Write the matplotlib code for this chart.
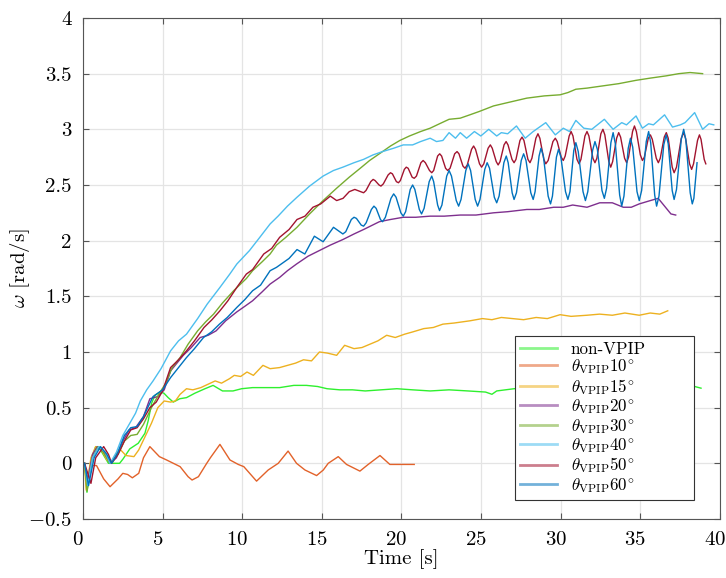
import numpy as np
import matplotlib
matplotlib.use('Agg')
import matplotlib.pyplot as plt
import matplotlib.transforms as mtransforms

plt.rcParams['font.family'] = 'serif'
plt.rcParams['font.serif'] = ['cmr10']
plt.rcParams['mathtext.fontset'] = 'cm'
plt.rcParams['axes.formatter.use_mathtext'] = True

# (time [s], omega [rad/s])
non_vpip = np.array([
    (0.1, 0), (0.25, -0.26), (0.55, 0.05), (0.8, 0.15), (1.1, 0.12), (1.6, 0.0), (2.3, 0.0),
    (2.52, 0.04), (2.94, 0.13), (3.47, 0.18), (3.89, 0.27), (4.1, 0.385), (4.31, 0.54),
    (4.52, 0.61), (4.83, 0.64), (5.08, 0.63), (5.35, 0.59), (5.67, 0.55), (6.08, 0.58),
    (6.5, 0.59), (7.03, 0.63), (7.66, 0.67), (8.17, 0.70), (8.76, 0.65), (9.42, 0.65),
    (9.96, 0.67), (10.65, 0.68), (11.35, 0.68), (12.35, 0.68), (13.24, 0.70), (14.03, 0.70),
    (14.73, 0.69), (15.33, 0.67), (16.13, 0.66), (16.92, 0.66), (17.72, 0.65), (18.71, 0.66),
    (19.71, 0.67), (20.7, 0.66), (21.8, 0.65), (22.99, 0.66), (24.18, 0.65), (25.28, 0.64),
    (25.68, 0.62), (25.98, 0.65), (27.07, 0.67), (28.17, 0.68), (29.66, 0.68), (31.15, 0.69),
    (32.64, 0.68), (34.13, 0.69), (35.62, 0.68), (37.12, 0.69), (38.41, 0.69), (38.81, 0.675),
])

vpip10 = np.array([
    (0.1, 0), (0.25, -0.2), (0.45, -0.02), (0.85, -0.02), (1.3, -0.14), (1.7, -0.21),
    (2.2, -0.14), (2.5, -0.09), (2.8, -0.1), (3.1, -0.13), (3.5, -0.09), (3.8, 0.05),
    (4.2, 0.15), (4.8, 0.06), (5.25, 0.03), (6.1, -0.03), (6.6, -0.12), (6.85, -0.15),
    (7.25, -0.12), (7.77, 0.0), (8.0, 0.05), (8.6, 0.17), (9.23, 0.03), (9.75, -0.01),
    (10.1, -0.03), (10.9, -0.16), (11.63, -0.06), (12.26, 0.0), (12.88, 0.11), (13.41, 0.0),
    (13.94, -0.06), (14.67, -0.11), (15.09, -0.06), (15.4, 0.0), (16.03, 0.06), (16.55, -0.01),
    (17.39, -0.07), (17.91, -0.01), (18.65, 0.07), (19.27, -0.01), (20.8, -0.01),
])

vpip15 = np.array([
    (0.1, 0), (0.2, -0.24), (0.5, 0.05), (0.8, 0.15), (1.1, 0.14), (1.5, 0.03), (1.8, 0.0),
    (2.1, 0.08), (2.3, 0.13), (2.7, 0.07), (3.2, 0.06), (3.5, 0.12), (3.8, 0.21), (4.3, 0.36),
    (4.7, 0.50), (5.1, 0.56), (5.5, 0.55), (5.8, 0.56), (6.1, 0.62), (6.5, 0.67), (6.9, 0.66),
    (7.4, 0.68), (7.7, 0.70), (8.3, 0.74), (8.7, 0.72), (9.2, 0.76), (9.5, 0.79), (9.9, 0.78),
    (10.3, 0.82), (10.7, 0.79), (11.3, 0.88), (11.75, 0.85), (12.35, 0.86), (12.85, 0.88),
    (13.35, 0.90), (13.85, 0.93), (14.35, 0.92), (14.85, 1.0), (15.35, 0.99), (15.93, 0.97),
    (16.43, 1.06), (17.02, 1.03), (17.52, 1.04), (18.02, 1.07), (18.52, 1.10), (19.07, 1.15),
    (19.61, 1.13), (20.2, 1.16), (20.7, 1.18), (21.4, 1.21), (22.0, 1.22), (22.6, 1.25),
    (23.3, 1.26), (24.3, 1.28), (25.08, 1.30), (25.68, 1.29), (26.27, 1.31), (26.97, 1.30),
    (27.67, 1.29), (28.46, 1.31), (29.16, 1.30), (29.96, 1.335), (30.65, 1.32), (31.65, 1.33),
    (32.44, 1.34), (33.24, 1.33), (34.03, 1.35), (34.93, 1.33), (35.62, 1.35), (36.22, 1.34),
    (36.72, 1.37),
])

vpip20 = np.array([
    (0.1, 0), (0.3, -0.15), (0.6, 0.08), (0.9, 0.15), (1.3, 0.1), (1.7, 0.0), (2.1, 0.05),
    (2.5, 0.2), (2.9, 0.3), (3.3, 0.32), (3.8, 0.42), (4.2, 0.58), (4.7, 0.6), (5.1, 0.66),
    (5.5, 0.83), (5.9, 0.9), (6.3, 0.97), (6.8, 1.04), (7.36, 1.13), (7.86, 1.15), (8.36, 1.19),
    (8.96, 1.28), (9.66, 1.36), (10.16, 1.41), (10.65, 1.46), (11.25, 1.54), (11.75, 1.61),
    (12.35, 1.67), (12.84, 1.73), (13.41, 1.79), (14.13, 1.86), (14.83, 1.91), (15.53, 1.96),
    (16.32, 2.01), (17.02, 2.06), (17.62, 2.10), (18.61, 2.17), (19.31, 2.19), (20.11, 2.21),
    (20.9, 2.21), (21.8, 2.22), (22.69, 2.22), (23.69, 2.23), (24.68, 2.23), (25.78, 2.25),
    (26.67, 2.26), (27.87, 2.28), (28.66, 2.28), (29.56, 2.30), (30.16, 2.30), (30.75, 2.32),
    (31.65, 2.30), (32.45, 2.34), (33.24, 2.34), (33.93, 2.30), (34.43, 2.30), (34.93, 2.33),
    (35.63, 2.36), (36.12, 2.38), (36.52, 2.31), (36.92, 2.24), (37.22, 2.23),
])

vpip30 = np.array([
    (0.1, 0), (0.25, -0.25), (0.6, 0.05), (0.95, 0.15), (1.3, 0.1), (1.7, 0.0), (2.2, 0.08),
    (2.6, 0.2), (3.0, 0.25), (3.4, 0.26), (3.8, 0.35), (4.3, 0.5), (4.8, 0.63), (5.2, 0.72),
    (5.6, 0.86), (6.1, 0.95), (6.6, 1.07), (7.2, 1.19), (7.7, 1.27), (8.2, 1.34), (8.76, 1.44),
    (9.46, 1.55), (10.26, 1.66), (10.65, 1.73), (11.25, 1.81), (11.75, 1.88), (12.15, 1.96),
    (12.74, 2.03), (13.44, 2.12), (14.23, 2.24), (15.08, 2.36), (15.92, 2.47), (16.72, 2.57),
    (17.41, 2.65), (18.0, 2.72), (18.71, 2.79), (19.31, 2.85), (19.9, 2.90), (20.5, 2.94),
    (21.2, 2.98), (21.8, 3.01), (22.39, 3.05), (22.99, 3.09), (23.69, 3.10), (24.29, 3.13),
    (24.88, 3.16), (25.78, 3.21), (26.67, 3.24), (27.87, 3.28), (28.96, 3.30), (29.96, 3.31),
    (30.45, 3.33), (30.95, 3.36), (31.65, 3.37), (32.64, 3.39), (33.64, 3.41), (34.73, 3.44),
    (35.63, 3.46), (36.62, 3.48), (37.42, 3.50), (38.12, 3.51), (38.91, 3.50),
])

vpip40 = np.array([
    (0.1, 0), (0.3, -0.2), (0.6, 0.05), (1.0, 0.15), (1.4, 0.1), (1.7, 0.0), (2.1, 0.1),
    (2.5, 0.25), (2.9, 0.35), (3.3, 0.45), (3.6, 0.56), (4.0, 0.66), (4.4, 0.74), (4.9, 0.85),
    (5.5, 1.01), (6.0, 1.1), (6.5, 1.16), (7.2, 1.3), (7.8, 1.43), (8.6, 1.58), (9.22, 1.70),
    (9.66, 1.79), (10.45, 1.91), (11.05, 2.02), (11.75, 2.15), (12.25, 2.22), (12.84, 2.31),
    (13.44, 2.39), (14.23, 2.49), (15.08, 2.58), (15.73, 2.63), (16.32, 2.66), (17.02, 2.70),
    (17.62, 2.73), (18.21, 2.77), (18.81, 2.80), (19.51, 2.83), (20.11, 2.86), (20.7, 2.86),
    (21.2, 2.89), (21.8, 2.92), (22.2, 2.89), (22.6, 2.90), (22.99, 2.97), (23.39, 2.92),
    (23.69, 2.97), (24.09, 2.92), (24.58, 2.98), (24.98, 2.94), (25.48, 3.00), (25.98, 2.94),
    (26.27, 2.97), (26.67, 2.96), (27.22, 3.03), (27.77, 2.92), (28.27, 2.98), (29.06, 3.06),
    (29.66, 2.95), (30.16, 3.01), (30.55, 2.98), (30.95, 3.08), (31.45, 3.01), (31.95, 3.00),
    (32.74, 3.09), (33.29, 3.00), (33.83, 3.06), (34.13, 3.04), (34.73, 3.12), (35.13, 3.01),
    (35.52, 3.05), (35.82, 3.04), (36.52, 3.13), (37.02, 3.02), (37.51, 3.04), (37.81, 3.06),
    (38.41, 3.15), (38.91, 3.00), (39.31, 3.05), (39.61, 3.04),
])

vpip50 = np.array([
    (0.1, 0), (0.5, -0.18), (0.8, 0.05), (1.3, 0.15), (1.6, 0.08), (1.8, 0.0), (2.2, 0.08),
    (2.6, 0.2), (3.0, 0.3), (3.4, 0.32), (3.8, 0.4), (4.2, 0.5), (4.6, 0.55), (5.0, 0.65),
    (5.5, 0.86), (6.0, 0.93), (6.5, 1.01), (7.0, 1.1), (7.6, 1.22), (8.1, 1.29), (8.6, 1.37),
    (9.1, 1.46), (9.66, 1.58), (10.26, 1.70), (10.65, 1.74), (11.35, 1.88), (11.85, 1.93),
    (12.35, 2.03), (12.94, 2.10), (13.44, 2.19), (13.94, 2.22), (14.44, 2.30), (14.93, 2.33),
    (15.53, 2.40), (15.93, 2.36), (16.33, 2.38), (16.72, 2.44), (17.07, 2.46), (17.62, 2.43),
    (17.77, 2.45), (18.07, 2.53), (18.22, 2.55), (18.34, 2.54), (18.59, 2.50), (18.71, 2.49),
    (18.86, 2.51), (19.16, 2.59), (19.31, 2.61), (19.43, 2.60), (19.68, 2.53), (19.81, 2.52),
    (19.93, 2.54), (20.18, 2.64), (20.3, 2.66), (20.42, 2.65), (20.67, 2.57), (20.8, 2.56),
    (20.94, 2.58), (21.22, 2.70), (21.36, 2.72), (21.5, 2.70), (21.76, 2.63), (21.9, 2.61),
    (22.02, 2.63), (22.27, 2.76), (22.4, 2.78), (22.52, 2.76), (22.77, 2.65), (22.9, 2.63),
    (23.05, 2.65), (23.34, 2.78), (23.49, 2.80), (23.61, 2.78), (23.86, 2.67), (23.99, 2.65),
    (24.13, 2.68), (24.4, 2.82), (24.53, 2.85), (24.65, 2.82), (24.9, 2.69), (25.03, 2.66),
    (25.17, 2.69), (25.44, 2.83), (25.58, 2.86), (25.7, 2.83), (25.95, 2.71), (26.07, 2.68),
    (26.19, 2.71), (26.44, 2.86), (26.57, 2.89), (26.69, 2.86), (26.94, 2.73), (27.07, 2.70),
    (27.19, 2.73), (27.44, 2.90), (27.57, 2.93), (27.69, 2.90), (27.94, 2.73), (28.07, 2.70),
    (28.19, 2.74), (28.44, 2.92), (28.57, 2.96), (28.69, 2.92), (28.94, 2.73), (29.06, 2.69),
    (29.21, 2.72), (29.51, 2.89), (29.66, 2.92), (29.78, 2.89), (30.03, 2.75), (30.16, 2.72),
    (30.28, 2.76), (30.53, 2.94), (30.65, 2.98), (30.77, 2.94), (31.02, 2.73), (31.15, 2.69),
    (31.27, 2.73), (31.52, 2.94), (31.65, 2.98), (31.77, 2.94), (32.02, 2.74), (32.15, 2.70),
    (32.27, 2.74), (32.52, 2.96), (32.65, 3.00), (32.77, 2.95), (33.02, 2.71), (33.14, 2.66),
    (33.26, 2.71), (33.51, 2.92), (33.64, 2.97), (33.76, 2.93), (34.01, 2.74), (34.14, 2.70),
    (34.26, 2.75), (34.51, 2.98), (34.63, 3.03), (34.75, 2.98), (35.0, 2.77), (35.13, 2.72),
    (35.25, 2.75), (35.5, 2.92), (35.63, 2.95), (35.75, 2.91), (36.0, 2.74), (36.13, 2.70),
    (36.25, 2.74), (36.5, 2.93), (36.63, 2.97), (36.75, 2.92), (37.0, 2.66), (37.12, 2.61),
    (37.27, 2.66), (37.57, 2.92), (37.72, 2.97), (37.84, 2.92), (38.09, 2.69), (38.22, 2.64),
    (38.34, 2.69), (38.59, 2.90), (38.71, 2.95), (38.81, 2.91), (39.01, 2.73), (39.11, 2.69),
])

vpip60 = np.array([
    (0.1, 0), (0.35, -0.2), (0.7, 0.05), (1.1, 0.15), (1.5, 0.08), (1.8, 0.0), (2.2, 0.1),
    (2.6, 0.25), (3.0, 0.32), (3.4, 0.33), (3.8, 0.42), (4.4, 0.6), (5.0, 0.66), (5.5, 0.77),
    (6.0, 0.86), (6.5, 0.95), (7.0, 1.03), (7.57, 1.13), (8.07, 1.18), (8.57, 1.25), (9.06, 1.31),
    (9.66, 1.40), (10.16, 1.47), (10.65, 1.55), (11.15, 1.60), (11.75, 1.73), (12.15, 1.76),
    (12.55, 1.80), (12.94, 1.84), (13.44, 1.92), (13.93, 1.88), (14.53, 2.04), (15.08, 1.99),
    (15.73, 2.12), (16.32, 2.06), (16.5, 2.08), (16.85, 2.19), (17.02, 2.21), (17.17, 2.20),
    (17.47, 2.14), (17.62, 2.13), (17.78, 2.16), (18.11, 2.28), (18.27, 2.31), (18.41, 2.29),
    (18.68, 2.19), (18.81, 2.17), (18.99, 2.21), (19.34, 2.38), (19.51, 2.42), (19.66, 2.39),
    (19.96, 2.25), (20.11, 2.22), (20.26, 2.26), (20.55, 2.46), (20.7, 2.50), (20.84, 2.46),
    (21.12, 2.28), (21.26, 2.24), (21.42, 2.29), (21.74, 2.53), (21.9, 2.58), (22.02, 2.53),
    (22.27, 2.32), (22.39, 2.27), (22.54, 2.32), (22.84, 2.58), (22.99, 2.63), (23.14, 2.58),
    (23.44, 2.36), (23.59, 2.31), (23.74, 2.37), (24.04, 2.63), (24.19, 2.69), (24.34, 2.63),
    (24.63, 2.37), (24.78, 2.31), (24.93, 2.37), (25.23, 2.64), (25.38, 2.70), (25.53, 2.65),
    (25.83, 2.39), (25.98, 2.34), (26.13, 2.40), (26.43, 2.70), (26.58, 2.76), (26.70, 2.70),
    (26.95, 2.43), (27.07, 2.37), (27.22, 2.43), (27.52, 2.72), (27.67, 2.78), (27.82, 2.72),
    (28.12, 2.43), (28.27, 2.37), (28.39, 2.44), (28.64, 2.76), (28.76, 2.83), (28.91, 2.76),
    (29.21, 2.40), (29.36, 2.33), (29.48, 2.40), (29.73, 2.75), (29.86, 2.82), (30.01, 2.75),
    (30.30, 2.44), (30.45, 2.37), (30.58, 2.44), (30.82, 2.81), (30.95, 2.88), (31.10, 2.80),
    (31.40, 2.44), (31.55, 2.36), (31.70, 2.44), (32.0, 2.81), (32.15, 2.89), (32.30, 2.82),
    (32.59, 2.45), (32.74, 2.38), (32.88, 2.47), (33.15, 2.88), (33.29, 2.97), (33.43, 2.87),
    (33.70, 2.41), (33.83, 2.31), (33.97, 2.40), (34.24, 2.83), (34.38, 2.92), (34.52, 2.84),
    (34.79, 2.44), (34.93, 2.36), (35.08, 2.45), (35.37, 2.89), (35.52, 2.98), (35.65, 2.88),
    (35.90, 2.41), (36.02, 2.31), (36.17, 2.40), (36.47, 2.86), (36.62, 2.95), (36.75, 2.87),
    (37.0, 2.45), (37.12, 2.37), (37.27, 2.46), (37.57, 2.91), (37.72, 3.00), (37.86, 2.90),
    (38.13, 2.43), (38.26, 2.33), (38.36, 2.38), (38.56, 2.70),
])

series = [non_vpip, vpip10, vpip15, vpip20, vpip30, vpip40, vpip50, vpip60]
labels = ['non-VPIP'] + [r'$\theta_{\mathrm{VPIP}}%d^{\!\circ}$' % a for a in [10, 15, 20, 30, 40, 50, 60]]
colors = ['#2ef02e', '#E2622A', '#EDB120', '#7E2F8E', '#77AC30', '#4DBEEE', '#A2142F', '#0072BD']

fig = plt.figure(figsize=(7.26, 5.78), dpi=100)
ax = fig.add_axes([0.1143, 0.1021, 0.8774, 0.8668])

for data, lab, col in zip(series, labels, colors):
    ax.plot(data[:, 0], data[:, 1], color=col, lw=1.0, label=lab)

ax.set_xlim(0, 40)
ax.set_ylim(-0.5, 4)
ax.set_xticks(np.arange(0, 41, 5))
ax.set_yticks(np.arange(-0.5, 4.01, 0.5))
ax.yaxis.set_major_formatter(matplotlib.ticker.FuncFormatter(
    lambda v, p: ('$-%g$' % -v) if v < 0 else '%g' % v))
ax.grid(True, color='#e4e4e4', lw=0.9)
ax.set_axisbelow(True)
for s in ax.spines.values():
    s.set_color('#555555')
    s.set_linewidth(0.8)
ax.tick_params(direction='in', length=4, width=0.8, colors='#555555',
               top=True, right=True, labelsize=15, labelcolor='black')
ax.tick_params(axis='x', pad=9)
ax.tick_params(axis='y', pad=8)

# x tick labels sit a little left of their grid lines in the reference
shift = mtransforms.ScaledTranslation(-5 / 100, 0, fig.dpi_scale_trans)
for lbl in ax.get_xticklabels():
    lbl.set_transform(lbl.get_transform() + shift)

ax.set_xlabel('Time [s]', fontsize=15, labelpad=0)
ax.set_ylabel(r'$\omega$ [rad/s]', fontsize=15)
ax.yaxis.set_label_coords(-0.08, 0.5)

leg = ax.legend(loc='lower left', bbox_to_anchor=(0.678, 0.038, 0.281, 0.307),
                mode='expand', fontsize=12.2,
                fancybox=False, framealpha=1, edgecolor='#333333',
                handlelength=2.2, handletextpad=0.8, labelspacing=0.03,
                borderpad=0.3, borderaxespad=0)
leg.get_frame().set_linewidth(0.8)
for h in leg.get_lines():
    h.set_linewidth(2.0)
    h.set_alpha(0.55)

fig.savefig('out.png', dpi=100)
